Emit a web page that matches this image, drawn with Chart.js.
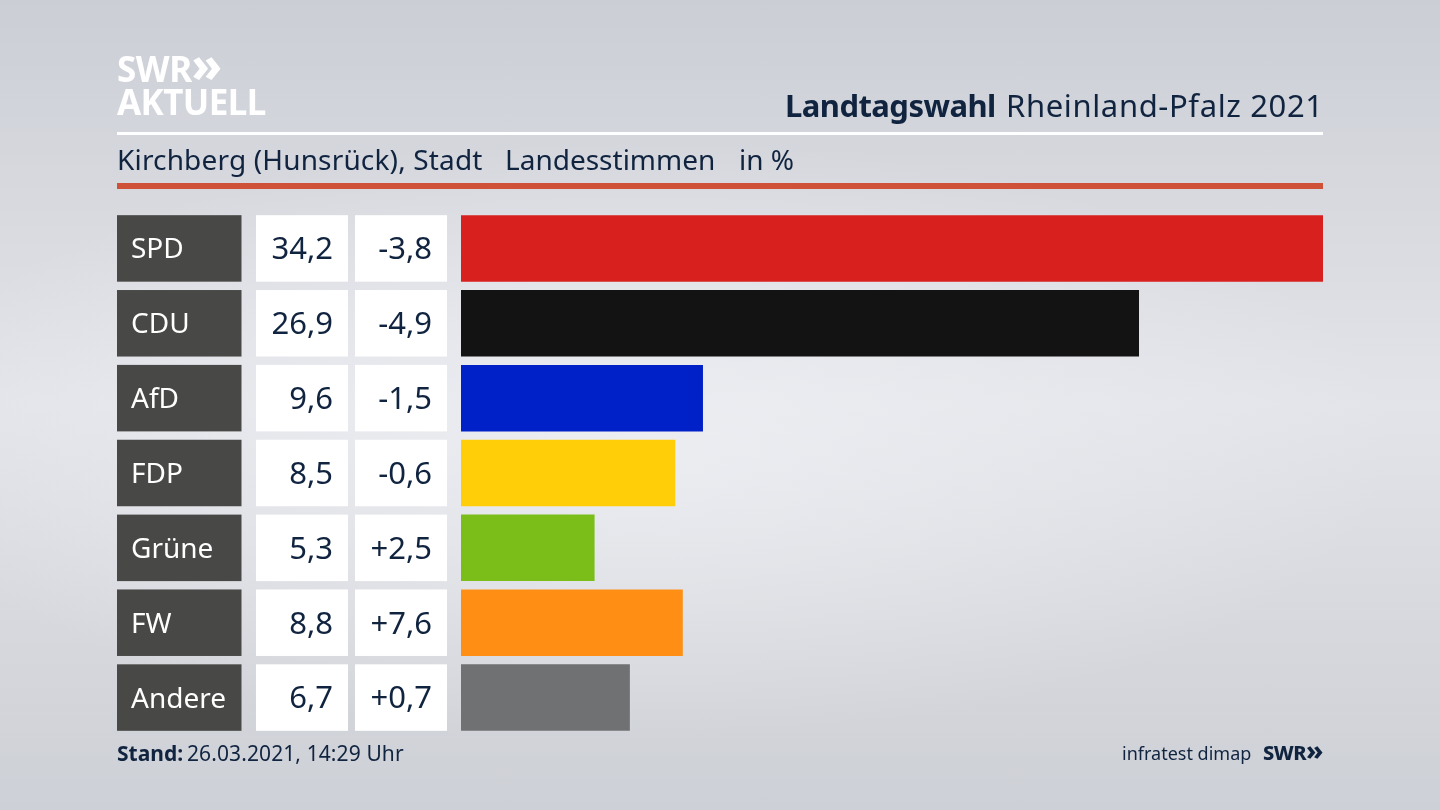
<!DOCTYPE html>
<html lang="de">
<head>
<meta charset="utf-8">
<title>Landtagswahl Rheinland-Pfalz 2021</title>
<script src="https://cdn.jsdelivr.net/npm/chart.js@4"></script>
<style>
  html, body { margin: 0; padding: 0; }
  body {
    width: 1440px; height: 810px; overflow: hidden; position: relative;
    background:
      radial-gradient(ellipse 760px 300px at 640px 440px, rgba(240,241,245,.75) 0%, rgba(240,241,245,0) 100%),
      linear-gradient(180deg, #cbced5 0%, #d6d8de 22%, #e2e4e9 50%, #d6d8dd 78%, #cdd0d6 100%);
    font-family: "Noto Sans", sans-serif; color: #10233f;
  }
  canvas { position: absolute; left: 0; top: 0; }
  .t { position: absolute; white-space: nowrap; line-height: 1; }
  .rule { position: absolute; left: 117px; width: 1206px; }
  .chev { font-size: 1.35em; line-height: 0; letter-spacing: 0; font-weight: 800; }
</style>
</head>
<body>
<canvas id="chart" width="1440" height="810"></canvas>

<div class="t" style="left:117px;top:51px;font-size:35px;font-weight:700;color:#fff;letter-spacing:-.5px">SWR<span class="chev">»</span></div>
<div class="t" style="left:117px;top:84px;font-size:35px;font-weight:700;color:#fff;letter-spacing:-.6px">AKTUELL</div>
<div class="t" style="left:785px;top:90px;font-size:31px;font-weight:700;letter-spacing:-.55px">Landtagswahl</div>
<div class="t" style="left:1006px;top:90px;font-size:31px;letter-spacing:.63px">Rheinland-Pfalz 2021</div>
<div class="rule" style="top:132px;height:3px;background:#fff"></div>
<div class="t" style="left:117px;top:145px;font-size:28px;letter-spacing:.16px">Kirchberg (Hunsrück), Stadt</div>
<div class="t" style="left:505px;top:145px;font-size:28px">Landesstimmen</div>
<div class="t" style="left:739px;top:145px;font-size:28px">in %</div>
<div class="rule" style="top:183px;height:6px;background:#cf5238"></div>
<div class="t" style="left:117px;top:743px;font-size:21px;font-weight:700">Stand:</div>
<div class="t" style="left:187px;top:743px;font-size:21px;letter-spacing:.1px">26.03.2021, 14:29 Uhr</div>
<div class="t" style="left:1122px;top:744px;font-size:18px">infratest dimap</div>
<div class="t" style="left:1263px;top:743px;font-size:20px;font-weight:800;letter-spacing:-.5px">SWR<span class="chev">»</span></div>

<script>
const parties = ['SPD', 'CDU', 'AfD', 'FDP', 'Grüne', 'FW', 'Andere'];
const shares = [34.2, 26.9, 9.6, 8.5, 5.3, 8.8, 6.7];
const changes = ['-3,8', '-4,9', '-1,5', '-0,6', '+2,5', '+7,6', '+0,7'];
const barColors = ['#d8201f', '#131313', '#0020c8', '#ffce08', '#7bbd19', '#ff8f14', '#707173'];

const fmt = v => v.toFixed(1).replace('.', ',');

// dark label box and the two white number cells left of each bar
const tablePlugin = {
  id: 'table',
  beforeDraw(chart) {
    const { ctx, scales: { y } } = chart;
    const h = 66.5;
    ctx.save();
    ctx.font = '31px "Noto Sans", sans-serif';
    ctx.textAlign = 'right';
    ctx.textBaseline = 'middle';
    parties.forEach((p, i) => {
      const cy = y.getPixelForValue(i);
      const top = cy - h / 2;
      ctx.fillStyle = '#484846';
      ctx.fillRect(117, top, 124.5, h);
      ctx.fillStyle = '#fff';
      ctx.fillRect(256, top, 92, h);
      ctx.fillRect(355, top, 92, h);
      ctx.fillStyle = '#10233f';
      ctx.fillText(fmt(shares[i]), 333, cy + 2);
      ctx.fillText(changes[i], 432, cy + 2);
    });
    ctx.restore();
  }
};

new Chart(document.getElementById('chart'), {
  type: 'bar',
  data: {
    labels: parties,
    datasets: [{
      data: shares,
      backgroundColor: barColors,
      borderWidth: 0,
      barPercentage: 0.888,
      categoryPercentage: 1
    }]
  },
  options: {
    indexAxis: 'y',
    responsive: false,
    animation: false,
    layout: { padding: { left: 131, right: 117, top: 211, bottom: 75 } },
    plugins: { legend: { display: false }, tooltip: { enabled: false } },
    scales: {
      x: { display: false, min: 0, max: 34.2 },
      y: {
        afterFit(scale) { scale.width = 330; },
        grid: { display: false },
        border: { display: false },
        ticks: {
          crossAlign: 'far',
          color: '#ffffff',
          padding: 0,
          // empty first line nudges the label 2px down inside its box
          callback: (v, i) => ['', parties[i]],
          font: { family: '"Noto Sans", sans-serif', size: 28, lineHeight: 0.15 }
        }
      }
    }
  },
  plugins: [tablePlugin]
});
</script>
</body>
</html>
